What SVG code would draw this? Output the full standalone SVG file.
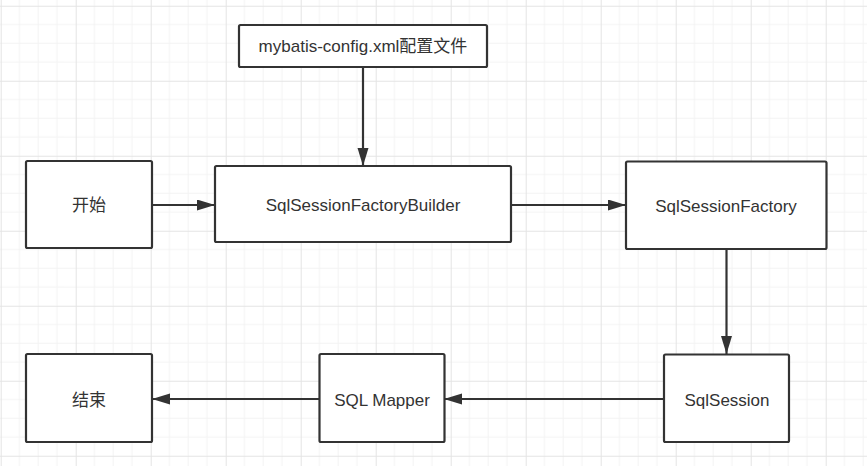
<svg xmlns="http://www.w3.org/2000/svg" width="867" height="466" viewBox="0 0 867 466">
<defs>
<pattern id="grid" patternUnits="userSpaceOnUse" x="0.7" y="5.75" width="75" height="75">
<path d="M18.75 0V75M37.5 0V75M56.25 0V75M0 18.75H75M0 37.5H75M0 56.25H75" stroke="#f3f3f3" stroke-width="1" fill="none"/>
<path d="M0.5 0V75M0 0.5H75" stroke="#e4e4e4" stroke-width="1" fill="none"/>
</pattern>
<marker id="arr" markerUnits="userSpaceOnUse" markerWidth="19" markerHeight="12" refX="18" refY="5.5" orient="auto">
<path d="M0 0L18 5.5L0 11z" fill="#333"/>
</marker>
</defs>
<style>
.box{fill:#fff;stroke:#333;stroke-width:2.2}
.t{font-family:"Microsoft YaHei","Liberation Sans","Noto Sans CJK SC",sans-serif;font-size:17px;fill:#333;text-anchor:middle;dominant-baseline:central}
.c{stroke:#333;stroke-width:2.2;fill:none;marker-end:url(#arr)}
</style>
<rect width="867" height="466" fill="#fff"/>
<rect width="867" height="466" fill="url(#grid)"/>
<g id="connectors">
<path class="c" d="M363 67V166"/>
<path class="c" d="M152 205H215"/>
<path class="c" d="M511 205H626"/>
<path class="c" d="M726.5 249V354"/>
<path class="c" d="M664 399H444"/>
<path class="c" d="M319 399H152"/>
</g>
<g id="config"><rect class="box" x="239" y="25" width="248" height="42" rx="1.5"/><text class="t" x="363" y="46">mybatis-config.xml配置文件</text></g>
<g id="start"><rect class="box" x="26" y="161" width="126" height="87" rx="1.5"/><text class="t" x="89" y="205">开始</text></g>
<g id="builder"><rect class="box" x="215" y="166" width="296" height="76" rx="1.5"/><text class="t" x="363" y="205">SqlSessionFactoryBuilder</text></g>
<g id="factory"><rect class="box" x="626" y="161.5" width="200.5" height="87.5" rx="1.5"/><text class="t" x="726" y="206">SqlSessionFactory</text></g>
<g id="session"><rect class="box" x="664" y="354.5" width="125" height="87.5" rx="1.5"/><text class="t" x="727" y="400">SqlSession</text></g>
<g id="mapper"><rect class="box" x="319.5" y="354" width="125" height="88" rx="1.5"/><text class="t" x="382" y="400">SQL Mapper</text></g>
<g id="end"><rect class="box" x="26" y="354" width="126" height="88" rx="1.5"/><text class="t" x="89" y="400">结束</text></g>
</svg>
